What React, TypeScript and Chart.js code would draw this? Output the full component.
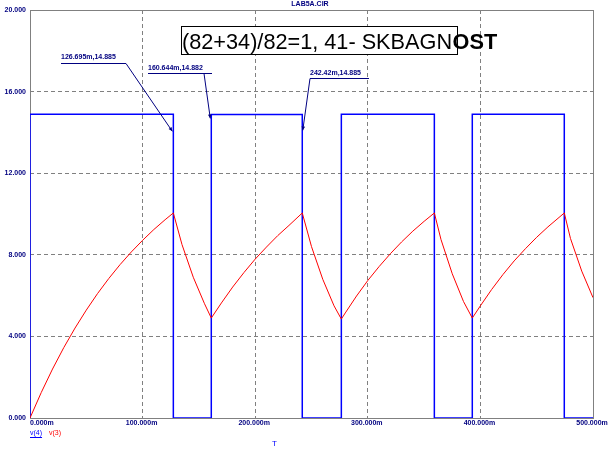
import React, { useEffect, useRef } from 'react';
import Chart from 'chart.js/auto';

// ---- data ----
const xTickValues = [0, 100, 200, 300, 400, 500];
const xTickLabels = ['0.000m', '100.000m', '200.000m', '300.000m', '400.000m', '500.000m'];
const yTickLabels = ['0.000', '4.000', '8.000', '12.000', '16.000', '20.000'];

// V(4): square wave (stepped)
const v4Times = [0, 0, 127.3, 161.0, 241.8, 276.5, 359.1, 392.8, 474.5, 500];
const v4Values = [0, 14.885, 0, 14.882, 0, 14.885, 0, 14.885, 0, 0];

// V(3): capacitor voltage
const v3Times = [0, 10, 20, 30, 40, 50, 60, 70, 80, 90, 100, 110, 120, 127.3,
  135, 145, 155, 161.0,
  170, 180, 190, 200, 210, 220, 230, 241.8,
  250, 260, 270, 276.5,
  280, 290, 300, 310, 320, 330, 340, 350, 359.1,
  365, 375, 385, 392.8,
  400, 410, 420, 430, 440, 450, 460, 474.5,
  480, 490, 500];
const v3Values = [0, 1.25, 2.40, 3.45, 4.41, 5.29, 6.10, 6.84, 7.52, 8.14, 8.71, 9.24, 9.72, 10.05,
  8.5, 6.9, 5.6, 4.9,
  5.64, 6.42, 7.13, 7.79, 8.38, 8.94, 9.44, 10.05,
  8.4, 6.8, 5.5, 4.85,
  5.15, 5.98, 6.74, 7.42, 8.05, 8.63, 9.16, 9.64, 10.05,
  8.75, 7.07, 5.71, 4.9,
  5.5, 6.3, 7.03, 7.7, 8.3, 8.86, 9.37, 10.05,
  8.8, 7.2, 5.9];

const plotTitle = 'LAB5A.CIR';
const noteMain = '(82+34)/82=1, 41- SKBAGN';
const noteBold = 'OST';
const cursorLabels = ['126.695m,14.885', '160.644m,14.882', '242.42m,14.885'];
const cursorTimes = [127.3, 161.0, 241.8];
const cursorValues = [14.885, 14.882, 14.885];
const legendNames = ['v(4)', 'v(3)'];
const xAxisName = 'T';

// ---- layout of callouts (pixels) ----
const cursorLayout = [
  { tx: 61, ty: 57.5, uy: 63.5, ux1: 126, lx: 126, ly: 63.5, dx: -1, dy: 17 },
  { tx: 148, ty: 68, uy: 73.5, ux1: 212, lx: 204, ly: 73.5, dx: -1, dy: 4 },
  { tx: 310, ty: 73, uy: 78.5, ux1: 369, lx: 310, ly: 78.5, dx: 0.5, dy: 16 },
];

const NAVY = '#000080';
const FONT = '"Liberation Sans", Arial, sans-serif';

const overlayPlugin = {
  id: 'overlay',
  beforeDatasetsDraw(chart: any) {
    const { ctx, chartArea } = chart;
    ctx.save();
    ctx.strokeStyle = '#808080';
    ctx.lineWidth = 1;
    ctx.setLineDash([]);
    ctx.strokeRect(chartArea.left + 0.5, chartArea.top + 0.5, chartArea.right - chartArea.left, chartArea.bottom - chartArea.top);
    ctx.restore();
  },
  afterDraw(chart: any) {
    const { ctx, chartArea, scales } = chart;
    const xs = scales.x;
    const ys = scales.y;
    ctx.save();
    // title
    ctx.font = `bold 7px ${FONT}`;
    ctx.fillStyle = NAVY;
    ctx.textAlign = 'center';
    ctx.textBaseline = 'middle';
    ctx.fillText(plotTitle, 310, 4.5);

    // x tick labels
    xTickValues.forEach((v, i) => {
      const px = xs.getPixelForValue(v);
      if (i === 0) {
        ctx.textAlign = 'left';
        ctx.fillText(xTickLabels[i], chartArea.left, 423.5);
      } else {
        ctx.textAlign = 'center';
        ctx.fillText(xTickLabels[i], px - 1, 423.5);
      }
    });

    // note box
    ctx.fillStyle = '#ffffff';
    ctx.fillRect(181.5, 26.5, 276, 28);
    ctx.strokeStyle = '#000000';
    ctx.lineWidth = 1;
    ctx.strokeRect(181.5, 26.5, 276, 28);
    ctx.fillStyle = '#000000';
    ctx.textAlign = 'left';
    ctx.textBaseline = 'alphabetic';
    ctx.font = `21.7px ${FONT}`;
    ctx.fillText(noteMain, 182, 48.5);
    const w = ctx.measureText(noteMain).width;
    ctx.font = `bold 21.7px ${FONT}`;
    ctx.fillText(noteBold, 182 + w + 0.5, 48.5);

    // cursor callouts
    ctx.font = `bold 7px ${FONT}`;
    ctx.textBaseline = 'middle';
    cursorLabels.forEach((lab, i) => {
      const L = cursorLayout[i];
      const tipX = xs.getPixelForValue(cursorTimes[i]) + L.dx;
      const tipY = ys.getPixelForValue(cursorValues[i]) + L.dy;
      ctx.fillStyle = NAVY;
      ctx.strokeStyle = NAVY;
      ctx.lineWidth = 1;
      ctx.fillText(lab, L.tx, L.ty);
      ctx.beginPath();
      ctx.moveTo(L.tx, L.uy);
      ctx.lineTo(L.ux1, L.uy);
      ctx.stroke();
      ctx.beginPath();
      ctx.moveTo(L.lx, L.ly);
      ctx.lineTo(tipX, tipY);
      ctx.stroke();
      const ang = Math.atan2(tipY - L.ly, tipX - L.lx);
      const len = 4, hw = 1.8;
      ctx.beginPath();
      ctx.moveTo(tipX, tipY);
      ctx.lineTo(tipX - len * Math.cos(ang) + hw * Math.sin(ang), tipY - len * Math.sin(ang) - hw * Math.cos(ang));
      ctx.lineTo(tipX - len * Math.cos(ang) - hw * Math.sin(ang), tipY - len * Math.sin(ang) + hw * Math.cos(ang));
      ctx.closePath();
      ctx.fill();
    });

    // legend
    ctx.font = `7px ${FONT}`;
    ctx.textBaseline = 'alphabetic';
    ctx.textAlign = 'left';
    ctx.fillStyle = '#0000ff';
    ctx.fillText(legendNames[0], 30, 435);
    const lw = ctx.measureText(legendNames[0]).width;
    ctx.strokeStyle = '#0000ff';
    ctx.beginPath();
    ctx.moveTo(30, 437.5);
    ctx.lineTo(30 + lw, 437.5);
    ctx.stroke();
    ctx.fillStyle = '#ff0000';
    ctx.fillText(legendNames[1], 49, 435);

    // x axis name
    ctx.font = `8px ${FONT}`;
    ctx.fillStyle = '#0000ff';
    ctx.fillText(xAxisName, 272, 446);
    ctx.restore();
  },
};

export default function App() {
  const ref = useRef<HTMLCanvasElement | null>(null);
  useEffect(() => {
    if (!ref.current) return;
    const chart = new Chart(ref.current, {
      type: 'line',
      data: {
        datasets: [
          {
            label: 'v(3)',
            data: v3Times.map((t, i) => ({ x: t, y: v3Values[i] })),
            borderColor: '#ff0000',
            borderWidth: 1,
            pointRadius: 0,
            tension: 0,
            fill: false,
          },
          {
            label: 'v(4)',
            data: v4Times.map((t, i) => ({ x: t, y: v4Values[i] })),
            borderColor: '#0000ff',
            borderWidth: 1.5,
            pointRadius: 0,
            stepped: true,
            fill: false,
          },
        ],
      },
      options: {
        responsive: false,
        animation: false,
        events: [],
        layout: { padding: { top: 10, right: 20, left: 0, bottom: 0 } },
        plugins: {
          legend: { display: false },
          tooltip: { enabled: false },
          title: { display: false },
        },
        scales: {
          x: {
            type: 'linear',
            min: 0,
            max: 500,
            ticks: { stepSize: 100, display: false },
            grid: { color: '#808080', lineWidth: 1, drawTicks: false },
            border: { display: false, dash: [4, 3] },
            afterFit: (s: any) => { s.height = 34; },
          },
          y: {
            type: 'linear',
            min: 0,
            max: 20,
            ticks: {
              stepSize: 4,
              padding: 4,
              color: NAVY,
              font: { family: FONT, size: 7, weight: 'bold' },
              callback: (_v: any, i: number) => yTickLabels[i],
            },
            grid: { color: '#808080', lineWidth: 1, drawTicks: false },
            border: { display: false, dash: [4, 3] },
            afterFit: (s: any) => { s.width = 30; },
          },
        },
      } as any,
      plugins: [overlayPlugin],
    });
    return () => chart.destroy();
  }, []);
  return (
    <div style={{ position: 'absolute', left: 0, top: 0, width: 613, height: 452, background: '#fff' }}>
      <canvas ref={ref} width={613} height={452} style={{ display: 'block' }} />
    </div>
  );
}
